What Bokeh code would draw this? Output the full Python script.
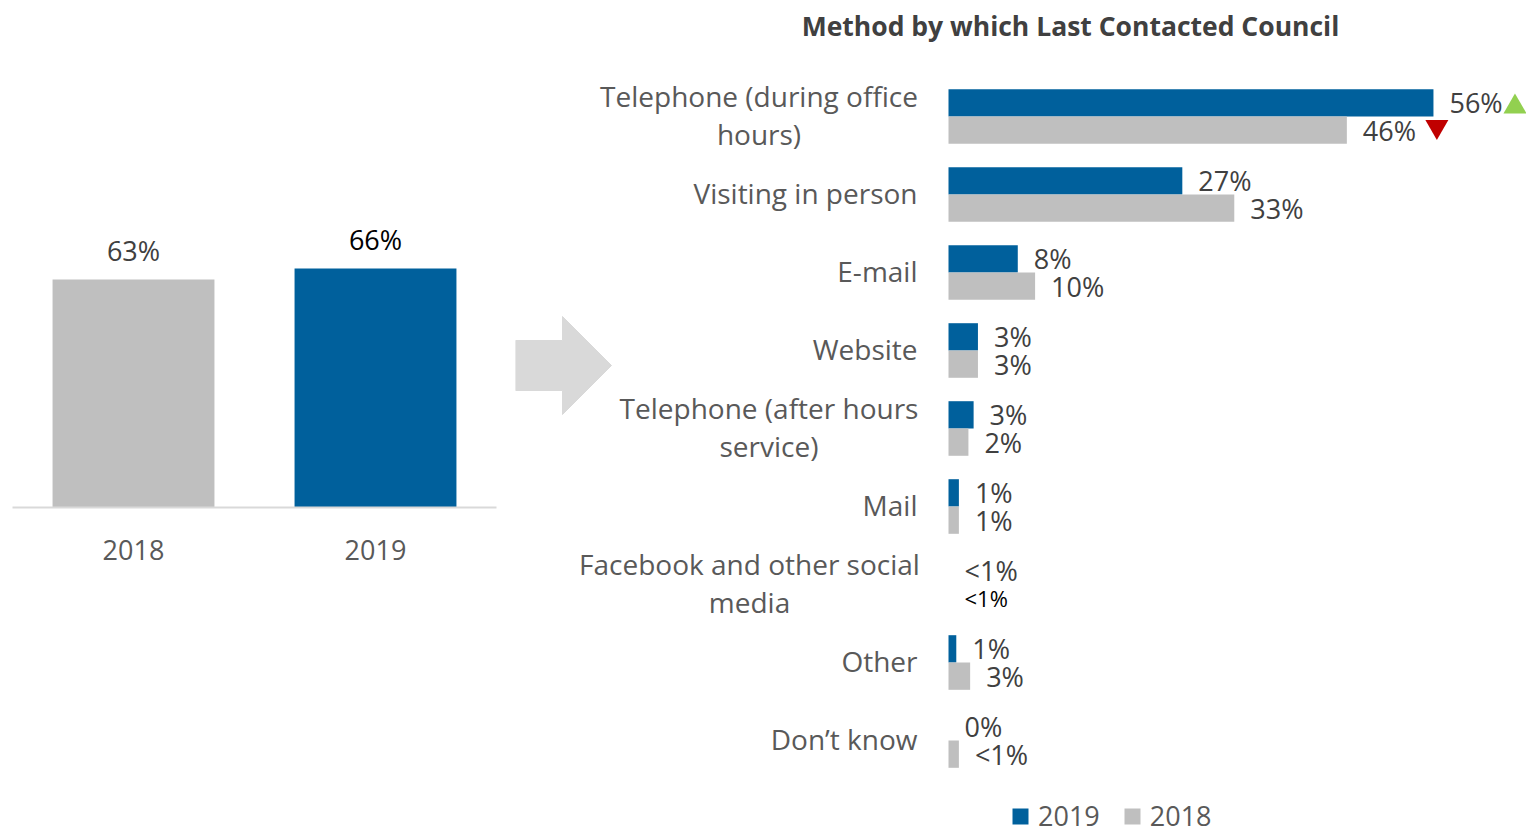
from bokeh.plotting import figure
from bokeh.models import Range1d, ColumnDataSource, Label, Legend, LegendItem
from bokeh.layouts import row
from bokeh.core.properties import value
from bokeh.embed import file_html
from bokeh.resources import INLINE

FONT = "Open Sans"
BLUE = "#00609c"
GRAY = "#bfbfbf"

# ---------------- data ----------------
years = ["2018", "2019"]
overall = [63, 66]
overall_labels = ["63%", "66%"]

method_line1 = ["Telephone (during office", "Visiting in person", "E-mail", "Website",
                "Telephone (after hours", "Mail", "Facebook and other social", "Other", "Don\u2019t know"]
method_line2 = ["hours)", "", "", "", "service)", "", "media", "", ""]
v2019 = [56, 27, 8, 3.4, 2.9, 1.2, 0, 0.9, 0]
v2018 = [46, 33, 10, 3.4, 2.3, 1.2, 0, 2.5, 1.2]
lab2019 = ["56%", "27%", "8%", "3%", "3%", "1%", "<1%", "1%", "0%"]
lab2018 = ["46%", "33%", "10%", "3%", "2%", "1%", "<1%", "3%", "<1%"]

H = 834
WL, WR = 515, 1011


def base(width, xr, yr):
    p = figure(width=width, height=H, x_range=xr, y_range=yr, output_backend="svg",
               toolbar_location=None, min_border=0, x_axis_location=None, y_axis_location=None)
    p.grid.visible = False
    p.outline_line_color = None
    return p


# ---------------- left: overall ----------------
PY = 3.62
pl = base(WL, Range1d(-133 / 242, (WL - 133) / 242), Range1d(-(H - 507) / PY, 507 / PY))
xi = list(range(len(years)))
pl.vbar(x=xi, top=overall, bottom=0, width=0.669, color=[GRAY, BLUE], line_color=None)
pl.segment(x0=[-0.5], y0=[0], x1=[1.5], y1=[0], line_color="#d9d9d9", line_width=2)
pl.text(x=xi, y=overall, text=overall_labels, y_offset=-29, text_align="center",
        text_baseline="middle", text_font=value(FONT), text_font_size="27px",
        text_color=["#404040", "#000000"])
pl.text(x=xi, y=[0] * len(xi), text=years, y_offset=42, text_align="center",
        text_baseline="middle", text_font=value(FONT), text_font_size="27px", text_color="#595959")

# ---------------- right: methods ----------------
PX = 8.66
X0 = 948 - WL
pr = base(WR, Range1d(-X0 / PX, (WR - X0) / PX), Range1d((H - 116) / 78, -116 / 78))

# decorative arrow (pixel range)
pr.extra_x_ranges = {"px": Range1d(0, WR)}
pr.extra_y_ranges = {"px": Range1d(H, 0)}
pr.patch(x=[0, 47, 47, 96, 47, 47, 0], y=[340, 340, 316, 365, 414, 390, 390], color="#d9d9d9",
         x_range_name="px", y_range_name="px")

n = len(method_line1)
yc = list(range(n))
y19 = [i - 0.175 for i in yc]
y18 = [i + 0.175 for i in yc]
r19 = pr.hbar(y=y19, left=0, right=v2019, height=0.35, fill_color=BLUE, line_color=None)
r18 = pr.hbar(y=y18, left=0, right=v2018, height=0.35, fill_color=GRAY, line_color=None)

pr.text(x=v2019, y=y19, text=lab2019, x_offset=16, text_align="left", text_baseline="middle",
        text_font=value(FONT), text_font_size="27px", text_color="#404040")
special = [a == "<1%" and b == "<1%" for a, b in zip(lab2019, lab2018)]
s18 = ColumnDataSource(dict(x=v2018, y=y18, t=lab2018,
                            fs=["22px" if s else "27px" for s in special],
                            c=["#000000" if s else "#404040" for s in special]))
pr.text(x="x", y="y", text="t", source=s18, x_offset=16, text_align="left", text_baseline="middle",
        text_font=value(FONT), text_font_size="fs", text_color="c")

# category labels
single_y = [i for i in yc if method_line2[i] == ""]
pr.text(x=[0] * len(single_y), y=single_y, text=[method_line1[i] for i in single_y], x_offset=-31,
        y_offset=-1.5, text_align="right", text_baseline="middle", text_font=value(FONT),
        text_font_size="28px", text_color="#595959")
two = [i for i in yc if method_line2[i] != ""]
centers = {0: -189.5, 4: -179.5, 6: -199}
for i in two:
    pr.text(x=[0, 0], y=[i - 0.244, i + 0.244], text=[method_line1[i], method_line2[i]],
            x_offset=centers[i], y_offset=-1.5, text_align="center", text_baseline="middle",
            text_font=value(FONT), text_font_size="28px", text_color="#595959")

# change markers
pr.scatter(x=[v2019[0] + 81.5 / PX], y=[y19[0] + 0.05], marker="triangle", size=23,
           fill_color="#92d050", line_color=None)
pr.scatter(x=[v2018[0] + 90 / PX], y=[y18[0] - 0.045], marker="inverted_triangle", size=23,
           fill_color="#c00000", line_color=None)

pr.add_layout(Label(x=1070 - WL, y=H - 25, x_units="screen", y_units="screen",
                    text="Method by which Last Contacted Council", text_align="center",
                    text_baseline="middle", text_font=FONT, text_font_style="bold",
                    text_font_size="26.5px", text_color="#404040"))

legend = Legend(items=[LegendItem(label="2019", renderers=[r19]), LegendItem(label="2018", renderers=[r18])],
                orientation="horizontal", location=(1010 - WL, 0), glyph_width=20, glyph_height=20,
                label_text_font=FONT, label_text_font_size="27px", label_text_color="#595959",
                label_standoff=8, spacing=22, padding=0, margin=0, border_line_color=None,
                background_fill_alpha=0)
pr.add_layout(legend)

layout = row(pl, pr)
open("out.html", "w").write(file_html(layout, INLINE))
